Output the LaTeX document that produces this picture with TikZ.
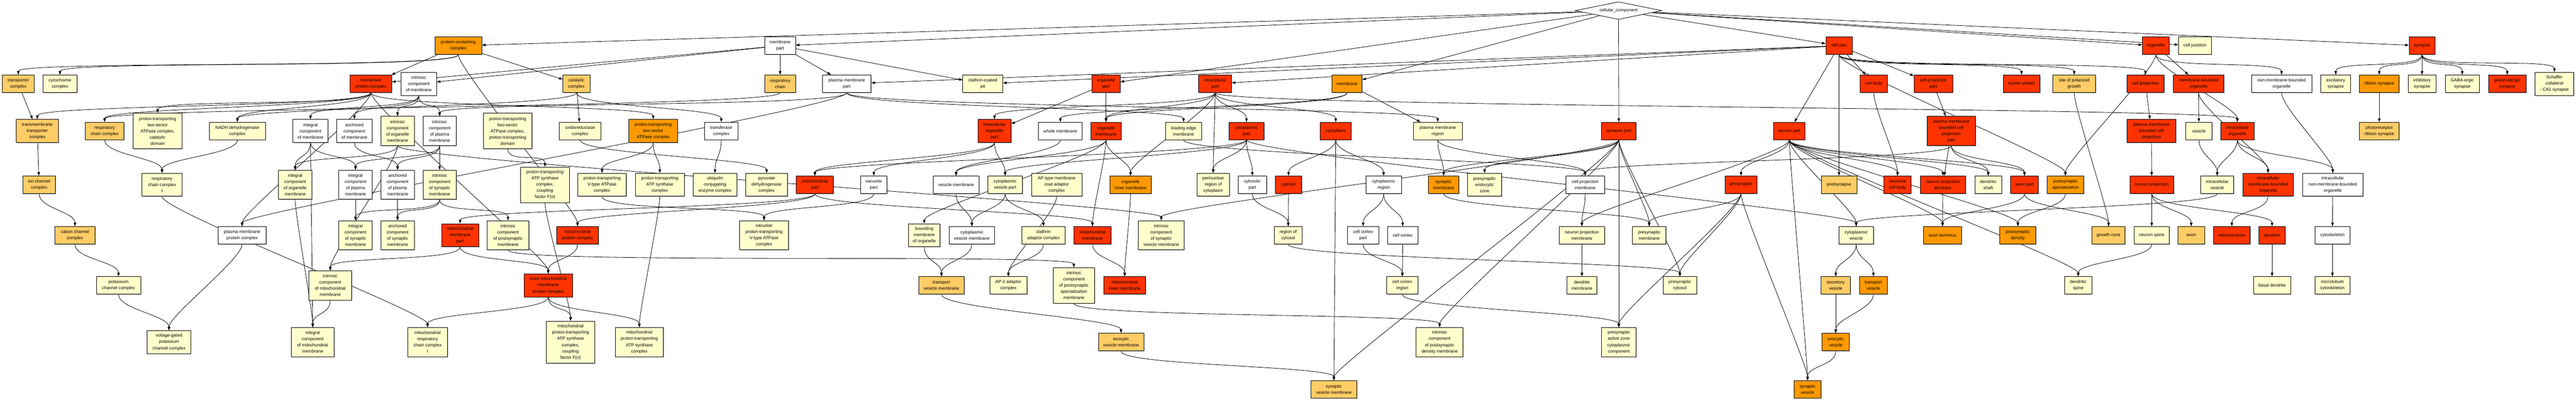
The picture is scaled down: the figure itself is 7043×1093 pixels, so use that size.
\documentclass[tikz,border=0pt]{standalone}
\usepackage{fontspec}
\setmainfont{Liberation Sans}
\usetikzlibrary{shapes.geometric,arrows.meta,shadows}
\definecolor{gored}{HTML}{FF3300}
\definecolor{godark}{HTML}{FF9900}
\definecolor{golight}{HTML}{FFCC66}
\definecolor{goyel}{HTML}{FFFFCC}
\newcommand{\gofont}{\fontsize{12}{17}\selectfont}
\pgfdeclarelayer{bg}
\pgfdeclarelayer{edges}
\pgfsetlayers{bg,edges,main}
\tikzset{gobox/.style={draw,line width=1.2pt,inner sep=0pt,align=center,font=\gofont,minimum height=48,
    drop shadow={shadow xshift=1.5pt,shadow yshift=-1.5pt,opacity=0.5}},
  redbox/.style={gobox,fill=gored},
  darkbox/.style={gobox,fill=godark},
  lightbox/.style={gobox,fill=golight},
  yelbox/.style={gobox,fill=goyel},
  whitebox/.style={gobox,fill=white},
  bw/.style={minimum width=#1},
  bh/.style={minimum height=#1},
  goedge/.style={->,line width=1.15pt},
  gv/.style={to path={(\tikztostart.south) .. controls +(0,40) and +(0,-40) .. (\tikztotarget.north) \tikztonodes}}}

\begin{document}
\begin{tikzpicture}[x=1pt,y=-1pt,>={Triangle[length=10pt,width=7pt]}]
\begin{pgfonlayer}{bg}
\fill[white] (0,0) rectangle (7043,1093);
\end{pgfonlayer}
\useasboundingbox (0,0) rectangle (7043,1093);

% root
\node[diamond,draw,line width=1.2pt,fill=white,aspect=4.9,minimum width=237,minimum height=48,inner sep=0pt,font=\gofont] (cc) at (4425,29) {cellular\_component};

% row 1
\node[darkbox,bw=128] (pcc) at (1253,125) {protein-containing\\complex};
\node[whitebox,bw=84] (mpart) at (2133,125) {membrane\\part};
\node[redbox,bw=72] (cellpart) at (5028,125) {cell part};
\node[redbox,bw=73] (organelle) at (5894,125) {organelle};
\node[yelbox,bw=90] (celljunc) at (6001,125) {cell junction};
\node[redbox,bw=71] (synapse) at (6622,125) {synapse};

% row 2
\node[lightbox,bw=87] (tc) at (50,229) {transporter\\complex};
\node[yelbox,bw=94] (cyc) at (164,229) {cytochrome\\complex};
\node[redbox,bw=114] (mpc) at (1014,229) {membrane\\protein complex};
\node[whitebox,bw=97,bh=63] (icm) at (1145,229) {intrinsic\\component\\of membrane};
\node[lightbox,bw=74] (catc) at (1576,229) {catalytic\\complex};
\node[lightbox,bw=84] (rchain) at (2133,229) {respiratory\\chain};
\node[whitebox,bw=133] (pmpart) at (2315,229) {plasma membrane\\part};
\node[yelbox,bw=109] (ccpit) at (2687,229) {clathrin-coated\\pit};
\node[redbox,bw=77] (opart) at (3024,229) {organelle\\part};
\node[redbox,bw=90] (ipart) at (3322,229) {intracellular\\part};
\node[darkbox,bw=82] (membrane) at (3683,229) {membrane};
\node[redbox,bw=74] (cbody) at (5123,229) {cell body};
\node[redbox,bw=106] (cpp) at (5286,229) {cell projection\\part};
\node[redbox,bw=101] (myelin) at (5527,229) {myelin sheath};
\node[lightbox,bw=117] (spg) at (5671,229) {site of polarized\\growth};
\node[redbox,bw=102] (cproj) at (5866,229) {cell projection};
\node[redbox,bw=139] (mbo) at (6011,229) {membrane-bounded\\organelle};
\node[whitebox,bw=165] (nmbo) at (6238,229) {non-membrane-bounded\\organelle};
\node[yelbox,bw=81] (excsyn) at (6386,229) {excitatory\\synapse};
\node[darkbox,bw=108] (ribbon) at (6505,229) {ribbon synapse};
\node[yelbox,bw=76] (inhsyn) at (6622,229) {inhibitory\\synapse};
\node[yelbox,bw=92] (gabasyn) at (6732,229) {GABA-ergic\\synapse};
\node[redbox,bw=103] (glusyn) at (6855,229) {glutamatergic\\synapse};
\node[yelbox,bw=106,bh=63] (schaffer) at (6984,229) {Schaffer\\collateral\\- CA1 synapse};

% row 3
\node[lightbox,bw=115,bh=63] (tmtc) at (102,358) {transmembrane\\transporter\\complex};
\node[lightbox,bw=106] (rcc) at (286,358) {respiratory\\chain complex};
\node[yelbox,bw=133,bh=97] (ptcd) at (431,358) {proton-transporting\\two-sector\\ATPase complex,\\catalytic\\domain};
\node[yelbox,bw=154] (nadh) at (649,358) {NADH dehydrogenase\\complex};
\node[whitebox,bw=96,bh=63] (intcm) at (849,358) {integral\\component\\of membrane};
\node[whitebox,bw=96,bh=63] (anccm) at (969,358) {anchored\\component\\of membrane};
\node[yelbox,bw=91,bh=80] (icom) at (1087,358) {intrinsic\\component\\of organelle\\membrane};
\node[whitebox,bw=91,bh=80] (icpm) at (1202,358) {intrinsic\\component\\of plasma\\membrane};
\node[yelbox,bw=133,bh=97] (ptpd) at (1388,358) {proton-transporting\\two-sector\\ATPase complex,\\proton-transporting\\domain};
\node[yelbox,bw=114] (oxido) at (1586,358) {oxidoreductase\\complex};
\node[darkbox,bw=133,bh=63] (ptsac) at (1786,358) {proton-transporting\\two-sector\\ATPase complex};
\node[whitebox,bw=91] (transf) at (1972,358) {transferase\\complex};
\node[redbox,bw=91,bh=63] (iop) at (2719,358) {intracellular\\organelle\\part};
\node[whitebox,bw=119] (wholem) at (2899,358) {whole membrane};
\node[redbox,bw=82] (omem) at (3024,358) {organelle\\membrane};
\node[yelbox,bw=98] (lem) at (3236,358) {leading edge\\membrane};
\node[redbox,bw=96] (cytpart) at (3408,358) {cytoplasmic\\part};
\node[redbox,bw=84] (cytoplasm) at (3652,358) {cytoplasm};
\node[yelbox,bw=133] (pmr) at (3931,358) {plasma membrane\\region};
\node[redbox,bw=95] (synpart) at (4426,358) {synapse part};
\node[redbox,bw=85] (neupart) at (4892,358) {neuron part};
\node[redbox,bw=133,bh=80] (pmbcpp) at (5335,358) {plasma membrane\\bounded cell\\projection\\part};
\node[redbox,bw=134,bh=63] (pmbcp) at (5882,358) {plasma membrane\\bounded cell\\projection};
\node[yelbox,bw=72] (vesicle) at (6012,358) {vesicle};
\node[redbox,bw=91] (iorg) at (6117,358) {intracellular\\organelle};
\node[lightbox,bw=108] (photo) at (6505,358) {photoreceptor\\ribbon synapse};

% row 4
\node[lightbox,bw=90] (ionch) at (107,505) {ion channel\\complex};
\node[yelbox,bw=109,bh=63] (rcci) at (443,505) {respiratory\\chain complex\\I};
\node[yelbox,bw=91,bh=80] (intcom) at (807,505) {integral\\component\\of organelle\\membrane};
\node[whitebox,bw=91,bh=80] (intcpm) at (972,505) {integral\\component\\of plasma\\membrane};
\node[whitebox,bw=91,bh=80] (anccpm) at (1087,505) {anchored\\component\\of plasma\\membrane};
\node[yelbox,bw=91,bh=80] (icsm) at (1202,505) {intrinsic\\component\\of synaptic\\membrane};
\node[yelbox,bw=133,bh=97] (ptcf) at (1490,505) {proton-transporting\\ATP synthase\\complex,\\coupling\\factor F(o)};
\node[yelbox,bw=133,bh=63] (ptv) at (1646,505) {proton-transporting\\V-type ATPase\\complex};
\node[yelbox,bw=133,bh=63] (ptatp) at (1804,505) {proton-transporting\\ATP synthase\\complex};
\node[yelbox,bw=119,bh=63] (ubiq) at (1955,505) {ubiquitin\\conjugating\\enzyme complex};
\node[yelbox,bw=115,bh=63] (pyr) at (2096,505) {pyruvate\\dehydrogenase\\complex};
\node[redbox,bw=101] (mitopart) at (2228,505) {mitochondrial\\part};
\node[whitebox,bw=72] (vacpart) at (2389,505) {vacuolar\\part};
\node[whitebox,bw=125] (vesmem) at (2614,505) {vesicle membrane};
\node[yelbox,bw=95] (cvp) at (2748,505) {cytoplasmic\\vesicle part};
\node[yelbox,bw=138,bh=63] (apcoat) at (2889,505) {AP-type membrane\\coat adaptor\\complex};
\node[darkbox,bw=113] (oim) at (3091,505) {organelle\\inner membrane};
\node[yelbox,bw=88,bh=63] (perinuc) at (3317,505) {perinuclear\\region of\\cytoplasm};
\node[whitebox,bw=78] (cytosolp) at (3424,505) {cytosolic\\part};
\node[redbox,bw=72] (cytosol) at (3523,505) {cytosol};
\node[whitebox,bw=97] (cytreg) at (3783,505) {cytoplasmic\\region};
\node[darkbox,bw=83] (synmem) at (3947,505) {synaptic\\membrane};
\node[yelbox,bw=93,bh=63] (pez) at (4059,505) {presynaptic\\endocytic\\zone};
\node[whitebox,bw=106] (cpm) at (4334,505) {cell projection\\membrane};
\node[redbox,bw=87] (presyn) at (4760,505) {presynapse};
\node[lightbox,bw=97] (postsyn) at (5028,505) {postsynapse};
\node[redbox,bw=74] (ncb) at (5188,505) {neuronal\\cell body};
\node[redbox,bw=124] (npt) at (5312,505) {neuron projection\\terminus};
\node[yelbox,bw=73] (dshaft) at (5436,505) {dendritic\\shaft};
\node[redbox,bw=75] (axonpart) at (5535,505) {axon part};
\node[darkbox,bw=101] (pss) at (5647,505) {postsynaptic\\specialization};
\node[redbox,bw=120] (neuproj) at (5883,505) {neuron projection};
\node[yelbox,bw=90] (ives) at (6062,505) {intracellular\\vesicle};
\node[redbox,bw=138,bh=63] (imbo) at (6201,505) {intracellular\\membrane-bounded\\organelle};
\node[whitebox,bw=165,bh=63] (inmbo) at (6378,505) {intracellular\\non-membrane-bounded\\organelle};

% row 5
\node[lightbox,bw=110] (cation) at (205,643) {cation channel\\complex};
\node[whitebox,bw=132] (pmpc) at (662,643) {plasma membrane\\protein complex};
\node[yelbox,bw=91,bh=80] (intcsm) at (972,643) {integral\\component\\of synaptic\\membrane};
\node[yelbox,bw=91,bh=80] (anccsm) at (1087,643) {anchored\\component\\of synaptic\\membrane};
\node[redbox,bw=101,bh=63] (mmp) at (1258,643) {mitochondrial\\membrane\\part};
\node[yelbox,bw=114,bh=80] (icpostm) at (1389,643) {intrinsic\\component\\of postsynaptic\\membrane};
\node[redbox,bw=115] (mpcx) at (1579,643) {mitochondrial\\protein complex};
\node[yelbox,bw=134,bh=80] (vacv) at (2089,643) {vacuolar\\proton-transporting\\V-type ATPase\\complex};
\node[yelbox,bw=87,bh=63] (bmo) at (2527,643) {bounding\\membrane\\of organelle};
\node[whitebox,bw=124] (cvm) at (2657,643) {cytoplasmic\\vesicle membrane};
\node[yelbox,bw=118] (clad) at (2853,643) {clathrin\\adaptor complex};
\node[redbox,bw=102] (mitomem) at (2987,643) {mitochondrial\\membrane};
\node[yelbox,bw=125,bh=80] (icsvm) at (3175,643) {intrinsic\\component\\of synaptic\\vesicle membrane};
\node[yelbox,bw=76] (regcyt) at (3522,643) {region of\\cytosol};
\node[whitebox,bw=85] (ccpart) at (3727,643) {cell cortex\\part};
\node[whitebox,bw=83] (cortex) at (3835,643) {cell cortex};
\node[yelbox,bw=125] (npm) at (4325,643) {neuron projection\\membrane};
\node[yelbox,bw=92] (presynm) at (4509,643) {presynaptic\\membrane};
\node[yelbox,bw=95] (cytves) at (5075,643) {cytoplasmic\\vesicle};
\node[darkbox,bw=104] (axterm) at (5311,643) {axon terminus};
\node[darkbox,bw=98] (psd) at (5517,643) {postsynaptic\\density};
\node[lightbox,bw=90] (gcone) at (5765,643) {growth cone};
\node[yelbox,bw=96] (nspine) at (5883,643) {neuron spine};
\node[lightbox,bw=73] (axon) at (5991,643) {axon};
\node[redbox,bw=101] (mito) at (6102,643) {mitochondrion};
\node[redbox,bw=72] (dendrite) at (6212,643) {dendrite};
\node[whitebox,bw=96] (cytosk) at (6377,643) {cytoskeleton};

% row 6
\node[yelbox,bw=121] (potas) at (324,780) {potassium\\channel complex};
\node[yelbox,bw=117,bh=80] (icmm) at (903,780) {intrinsic\\component\\of mitochondrial\\membrane};
\node[redbox,bw=133,bh=63] (immpc) at (1499,780) {inner mitochondrial\\membrane\\protein complex};
\node[lightbox,bw=125] (tvm) at (2574,780) {transport\\vesicle membrane};
\node[yelbox,bw=102] (ap2) at (2757,780) {AP-2 adaptor\\complex};
\node[yelbox,bw=113,bh=97] (icpsm) at (2936,780) {intrinsic\\component\\of postsynaptic\\specialization\\membrane};
\node[redbox,bw=115] (mim) at (3075,780) {mitochondrial\\inner membrane};
\node[yelbox,bw=85] (ccreg) at (3834,780) {cell cortex\\region};
\node[yelbox,bw=82] (dmem) at (4325,780) {dendrite\\membrane};
\node[yelbox,bw=92] (precyt) at (4593,780) {presynaptic\\cytosol};
\node[lightbox,bw=80] (secves) at (5019,780) {secretory\\vesicle};
\node[darkbox,bw=76] (trves) at (5122,780) {transport\\vesicle};
\node[yelbox,bw=74] (dspine) at (5682,780) {dendritic\\spine};
\node[yelbox,bw=101] (basal) at (6212,780) {basal dendrite};
\node[yelbox,bw=96] (mtcyt) at (6377,780) {microtubule\\cytoskeleton};

% row 7
\node[yelbox,bw=119,bh=63] (vgk) at (462,935) {voltage-gated\\potassium\\channel complex};
\node[yelbox,bw=117,bh=80] (intcmm) at (855,935) {integral\\component\\of mitochondrial\\membrane};
\node[yelbox,bw=109,bh=80] (mrcci) at (1169,935) {mitochondrial\\respiratory\\chain complex\\I};
\node[yelbox,bw=132,bh=115] (mptcf) at (1560,935) {mitochondrial\\proton-transporting\\ATP synthase\\complex,\\coupling\\factor F(o)};
\node[yelbox,bw=132,bh=80] (mptatp) at (1748,935) {mitochondrial\\proton-transporting\\ATP synthase\\complex};
\node[lightbox,bw=124] (evm) at (3065,935) {exocytic\\vesicle membrane};
\node[yelbox,bw=128,bh=80] (icpdm) at (3936,935) {intrinsic\\component\\of postsynaptic\\density membrane};
\node[yelbox,bw=95,bh=80] (pazcc) at (4426,935) {presynaptic\\active zone\\cytoplasmic\\component};
\node[darkbox,bw=74] (exoves) at (5019,935) {exocytic\\vesicle};

% row 8
\node[lightbox,bw=125] (svm) at (3647,1064) {synaptic\\vesicle membrane};
\node[darkbox,bw=74] (synves) at (4942,1064) {synaptic\\vesicle};

\begin{pgfonlayer}{edges}
% from the root
\draw[goedge] (cc) -- (pcc);
\draw[goedge] (cc) -- (mpart);
\draw[goedge] (cc) -- (opart);
\draw[goedge] (cc) -- (membrane);
\draw[goedge] (cc) -- (synpart);
\draw[goedge] (cc) -- (cellpart);
\draw[goedge] (cc) -- (organelle);
\draw[goedge] (cc) -- (celljunc);
\draw[goedge] (cc) -- (synapse);

% row 1
\draw[goedge] (pcc) to[gv] (tc);
\draw[goedge] (pcc) to[gv] (cyc);
\draw[goedge] (pcc) -- (mpc);
\draw[goedge] (pcc) -- (catc);
\draw[goedge] (pcc) to[gv] (mpcx);
\draw[goedge] (mpart) -- (icm);
\draw[goedge] (mpart) -- (rchain);
\draw[goedge] (mpart) -- (pmpart);
\draw[goedge] (mpart) -- (ccpit);
\draw[goedge] (mpart) -- (mpc);
\draw[goedge] (cellpart) -- (pmpart);
\draw[goedge] (cellpart) -- (ipart);
\draw[goedge] (cellpart) -- (ccpit);
\draw[goedge] (cellpart) -- (cbody);
\draw[goedge] (cellpart) -- (cpp);
\draw[goedge] (cellpart) to[gv] (myelin);
\draw[goedge] (cellpart) to[gv] (spg);
\draw[goedge] (cellpart) to[gv] (cproj);
\draw[goedge] (cellpart) -- (neupart);
\draw[goedge] (cellpart) -- (postsyn);
\draw[goedge] (cellpart) to[gv] (pss);
\draw[goedge] (organelle) -- (mbo);
\draw[goedge] (organelle) to[gv] (nmbo);
\draw[goedge] (organelle) to[gv] (iorg);
\draw[goedge] (organelle) to[gv] (pss);
\draw[goedge] (synapse) to[gv] (excsyn);
\draw[goedge] (synapse) to[gv] (ribbon);
\draw[goedge] (synapse) to[gv] (inhsyn);
\draw[goedge] (synapse) to[gv] (gabasyn);
\draw[goedge] (synapse) to[gv] (glusyn);
\draw[goedge] (synapse) to[gv] (schaffer);

% row 2
\draw[goedge] (tc) -- (tmtc);
\draw[goedge] (mpc) to[gv] (tmtc);
\draw[goedge] (mpc) to[gv] (rcc);
\draw[goedge] (mpc) to[gv] (ptcd);
\draw[goedge] (mpc) to[gv] (nadh);
\draw[goedge] (mpc) to[gv] (pmpc);
\draw[goedge] (mpc) to[gv] (ptsac);
\draw[goedge] (mpc) to[gv] (immpc);
\draw[goedge] (icm) to[gv] (intcm);
\draw[goedge] (icm) to[gv] (anccm);
\draw[goedge] (icm) to[gv] (icom);
\draw[goedge] (icm) to[gv] (icpm);
\draw[goedge] (catc) -- (oxido);
\draw[goedge] (catc) to[gv] (transf);
\draw[goedge] (catc) to[gv] (nadh);
\draw[goedge] (rchain) to[gv] (rcc);
\draw[goedge] (pmpart) to[gv] (icpm);
\draw[goedge] (pmpart) to[gv] (pmpc);
\draw[goedge] (pmpart) to[gv] (lem);
\draw[goedge] (pmpart) to[gv] (pmr);
\draw[goedge] (opart) -- (iop);
\draw[goedge] (opart) -- (omem);
\draw[goedge] (ipart) to[gv] (iop);
\draw[goedge] (ipart) to[gv] (omem);
\draw[goedge] (ipart) to[gv] (cytpart);
\draw[goedge] (ipart) to[gv] (cytoplasm);
\draw[goedge] (ipart) to[gv] (iorg);
\draw[goedge] (ipart) to[gv] (oim);
\draw[goedge] (ipart) to[gv] (perinuc);
\draw[goedge] (membrane) -- (pmr);
\draw[goedge] (membrane) to[gv] (omem);
\draw[goedge] (membrane) to[gv] (wholem);
\draw[goedge] (cbody) to[gv] (ncb);
\draw[goedge] (cpp) -- (pmbcpp);
\draw[goedge] (cproj) -- (pmbcp);
\draw[goedge] (spg) to[gv] (gcone);
\draw[goedge] (mbo) -- (vesicle);
\draw[goedge] (mbo) to[gv] (imbo);
\draw[goedge] (nmbo) to[gv] (inmbo);
\draw[goedge] (ribbon) -- (photo);

% row 3
\draw[goedge] (tmtc) -- (ionch);
\draw[goedge] (rcc) to[gv] (rcci);
\draw[goedge] (nadh) to[gv] (rcci);
\draw[goedge] (intcm) to[gv] (intcom);
\draw[goedge] (intcm) to[gv] (intcpm);
\draw[goedge] (intcm) to[gv] (intcmm);
\draw[goedge] (anccm) to[gv] (anccpm);
\draw[goedge] (icom) to[gv] (intcom);
\draw[goedge] (icom) to[gv] (icmm);
\draw[goedge] (icom) to[gv] (icsvm);
\draw[goedge] (icpm) to[gv] (intcpm);
\draw[goedge] (icpm) to[gv] (anccpm);
\draw[goedge] (icpm) -- (icsm);
\draw[goedge] (ptpd) to[gv] (ptcf);
\draw[goedge] (oxido) to[gv] (pyr);
\draw[goedge] (ptsac) to[gv] (ptv);
\draw[goedge] (ptsac) to[gv] (ptatp);
\draw[goedge] (transf) to[gv] (ubiq);
\draw[goedge] (iop) to[gv] (vacpart);
\draw[goedge] (iop) to[gv] (cvp);
\draw[goedge] (iop) to[gv] (mitopart);
\draw[goedge] (wholem) to[gv] (vesmem);
\draw[goedge] (omem) to[gv] (oim);
\draw[goedge] (omem) to[gv] (bmo);
\draw[goedge] (omem) to[gv] (mitomem);
\draw[goedge] (omem) to[gv] (vesmem);
\draw[goedge] (lem) to[gv] (cpm);
\draw[goedge] (cytpart) to[gv] (perinuc);
\draw[goedge] (cytpart) to[gv] (cytosolp);
\draw[goedge] (cytpart) to[gv] (cvp);
\draw[goedge] (cytpart) to[gv] (mitopart);
\draw[goedge] (cytpart) to[gv] (cytves);
\draw[goedge] (cytoplasm) to[gv] (cytreg);
\draw[goedge] (cytoplasm) to[gv] (cytosol);
\draw[goedge] (cytoplasm) to[gv] (svm);
\draw[goedge] (pmr) to[gv] (synmem);
\draw[goedge] (pmr) to[gv] (cpm);
\draw[goedge] (synpart) to[gv] (synmem);
\draw[goedge] (synpart) to[gv] (pez);
\draw[goedge] (synpart) to[gv] (presynm);
\draw[goedge] (synpart) to[gv] (icsvm);
\draw[goedge] (synpart) to[gv] (svm);
\draw[goedge] (synpart) to[gv] (icpdm);
\draw[goedge] (synpart) to[gv] (precyt);
\draw[goedge] (synpart) -- (pazcc);
\draw[goedge] (neupart) to[gv] (presyn);
\draw[goedge] (neupart) to[gv] (ncb);
\draw[goedge] (neupart) to[gv] (npt);
\draw[goedge] (neupart) to[gv] (axonpart);
\draw[goedge] (neupart) to[gv] (dshaft);
\draw[goedge] (neupart) to[gv] (cytves);
\draw[goedge] (neupart) to[gv] (axterm);
\draw[goedge] (neupart) to[gv] (psd);
\draw[goedge] (neupart) to[gv] (dspine);
\draw[goedge] (neupart) to[gv] (npm);
\draw[goedge] (neupart) to[gv] (synves);
\draw[goedge] (pmbcpp) -- (npt);
\draw[goedge] (pmbcpp) to[gv] (dshaft);
\draw[goedge] (pmbcpp) to[gv] (axonpart);
\draw[goedge] (pmbcpp) to[gv] (cpm);
\draw[goedge] (pmbcp) -- (neuproj);
\draw[goedge] (vesicle) to[gv] (ives);
\draw[goedge] (iorg) to[gv] (ives);
\draw[goedge] (iorg) to[gv] (imbo);
\draw[goedge] (iorg) to[gv] (inmbo);

% row 4
\draw[goedge] (ionch) to[gv] (cation);
\draw[goedge] (rcci) to[gv] (mrcci);
\draw[goedge] (intcom) to[gv] (intcmm);
\draw[goedge] (intcpm) -- (intcsm);
\draw[goedge] (anccpm) -- (anccsm);
\draw[goedge] (icsm) to[gv] (intcsm);
\draw[goedge] (icsm) to[gv] (anccsm);
\draw[goedge] (icsm) to[gv] (icpostm);
\draw[goedge] (ptcf) to[gv] (mptcf);
\draw[goedge] (ptv) to[gv] (vacv);
\draw[goedge] (ptatp) to[gv] (mptatp);
\draw[goedge] (mitopart) to[gv] (mmp);
\draw[goedge] (mitopart) to[gv] (mpcx);
\draw[goedge] (mitopart) to[gv] (mitomem);
\draw[goedge] (vacpart) to[gv] (vacv);
\draw[goedge] (vesmem) to[gv] (cvm);
\draw[goedge] (cvp) to[gv] (cvm);
\draw[goedge] (cvp) to[gv] (clad);
\draw[goedge] (apcoat) to[gv] (ap2);
\draw[goedge] (oim) to[gv] (mim);
\draw[goedge] (cytosolp) to[gv] (regcyt);
\draw[goedge] (cytosol) -- (regcyt);
\draw[goedge] (cytreg) to[gv] (cortex);
\draw[goedge] (cytreg) to[gv] (ccpart);
\draw[goedge] (synmem) to[gv] (presynm);
\draw[goedge] (cpm) to[gv] (npm);
\draw[goedge] (presyn) to[gv] (presynm);
\draw[goedge] (presyn) to[gv] (precyt);
\draw[goedge] (presyn) to[gv] (pazcc);
\draw[goedge] (presyn) to[gv] (synves);
\draw[goedge] (npt) -- (axterm);
\draw[goedge] (axonpart) to[gv] (axterm);
\draw[goedge] (axonpart) to[gv] (gcone);
\draw[goedge] (pss) to[gv] (psd);
\draw[goedge] (neuproj) -- (nspine);
\draw[goedge] (neuproj) to[gv] (axon);
\draw[goedge] (neuproj) to[gv] (dendrite);
\draw[goedge] (ives) to[gv] (cytves);
\draw[goedge] (imbo) to[gv] (mito);
\draw[goedge] (inmbo) -- (cytosk);

% row 5
\draw[goedge] (cation) to[gv] (potas);
\draw[goedge] (pmpc) to[gv] (vgk);
\draw[goedge] (mmp) to[gv] (immpc);
\draw[goedge] (mmp) to[gv] (icmm);
\draw[goedge] (icpostm) to[gv] (icpsm);
\draw[goedge] (mpcx) to[gv] (immpc);
\draw[goedge] (cvm) to[gv] (tvm);
\draw[goedge] (bmo) to[gv] (tvm);
\draw[goedge] (clad) to[gv] (ap2);
\draw[goedge] (mitomem) to[gv] (mim);
\draw[goedge] (regcyt) to[gv] (precyt);
\draw[goedge] (ccpart) to[gv] (ccreg);
\draw[goedge] (cortex) -- (ccreg);
\draw[goedge] (npm) -- (dmem);
\draw[goedge] (cytves) to[gv] (secves);
\draw[goedge] (cytves) to[gv] (trves);
\draw[goedge] (nspine) to[gv] (dspine);
\draw[goedge] (dendrite) -- (basal);
\draw[goedge] (cytosk) -- (mtcyt);

% row 6 and below
\draw[goedge] (potas) to[gv] (vgk);
\draw[goedge] (icmm) to[gv] (intcmm);
\draw[goedge] (immpc) to[gv] (mrcci);
\draw[goedge] (immpc) to[gv] (mptcf);
\draw[goedge] (immpc) to[gv] (mptatp);
\draw[goedge] (tvm) to[gv] (evm);
\draw[goedge] (icpsm) to[gv] (icpdm);
\draw[goedge] (ccreg) to[gv] (pazcc);
\draw[goedge] (secves) -- (exoves);
\draw[goedge] (trves) to[gv] (exoves);
\draw[goedge] (evm) to[gv] (svm);
\draw[goedge] (exoves) to[gv] (synves);
\end{pgfonlayer}
\end{tikzpicture}
\end{document}
